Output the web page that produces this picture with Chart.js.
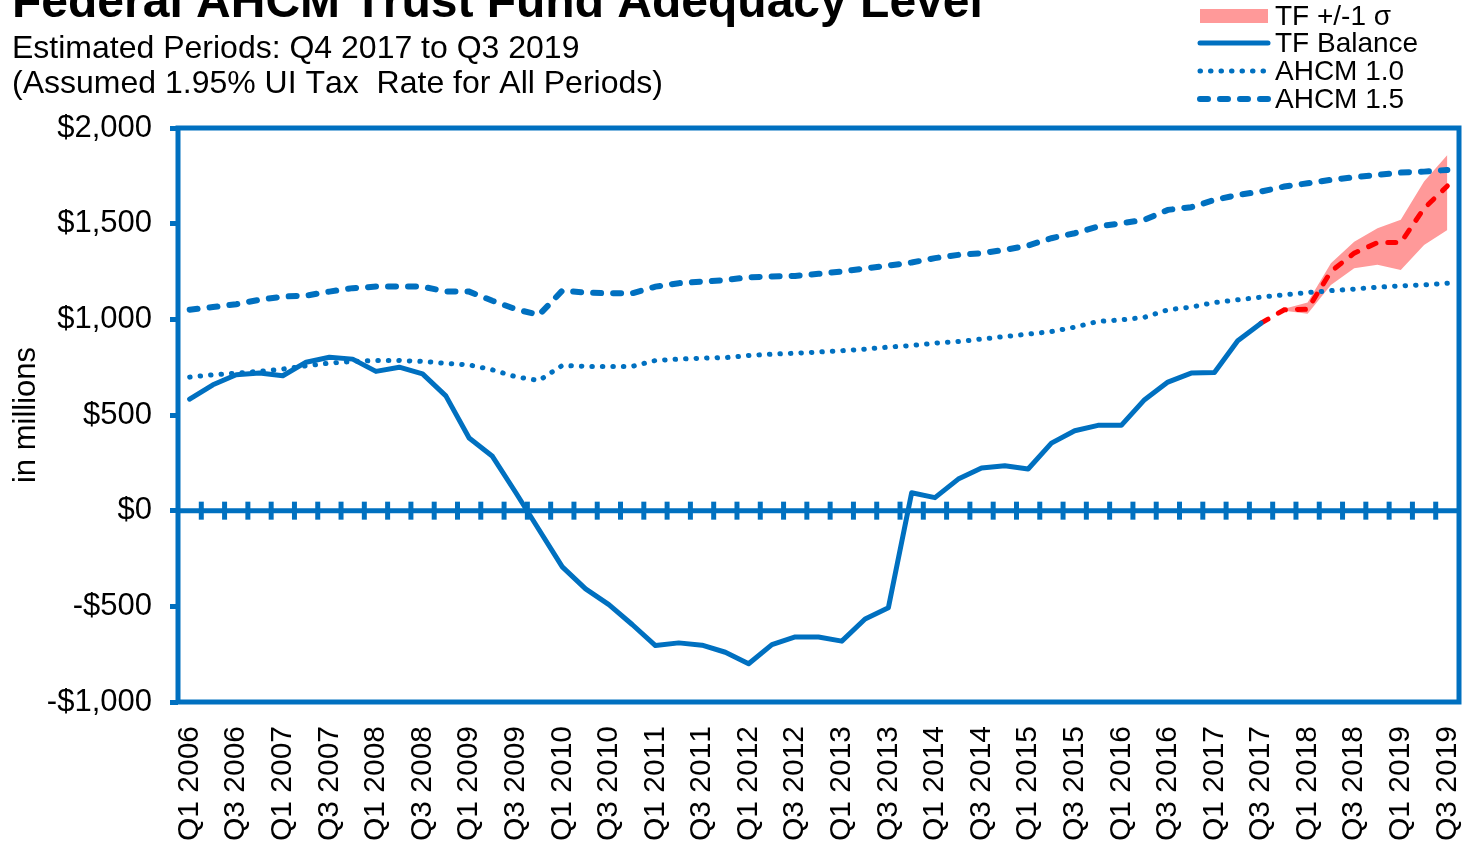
<!DOCTYPE html>
<html>
<head>
<meta charset="utf-8">
<script src="https://cdn.jsdelivr.net/npm/chart.js@4"></script>
<style>
  body { margin: 0; background: #fff; }
  canvas { display: block; }
</style>
</head>
<body>
<canvas id="chart" width="1470" height="849"></canvas>
<script>
// Quarters on the x axis (Q1 2006 .. Q3 2019)
const quarters = [
  "Q1 2006", "Q2 2006", "Q3 2006", "Q4 2006", "Q1 2007", "Q2 2007", "Q3 2007", "Q4 2007",
  "Q1 2008", "Q2 2008", "Q3 2008", "Q4 2008", "Q1 2009", "Q2 2009", "Q3 2009", "Q4 2009",
  "Q1 2010", "Q2 2010", "Q3 2010", "Q4 2010", "Q1 2011", "Q2 2011", "Q3 2011", "Q4 2011",
  "Q1 2012", "Q2 2012", "Q3 2012", "Q4 2012", "Q1 2013", "Q2 2013", "Q3 2013", "Q4 2013",
  "Q1 2014", "Q2 2014", "Q3 2014", "Q4 2014", "Q1 2015", "Q2 2015", "Q3 2015", "Q4 2015",
  "Q1 2016", "Q2 2016", "Q3 2016", "Q4 2016", "Q1 2017", "Q2 2017", "Q3 2017", "Q4 2017",
  "Q1 2018", "Q2 2018", "Q3 2018", "Q4 2018", "Q1 2019", "Q2 2019", "Q3 2019"
];

// Trust fund balance, actual (in millions)
const tfBalance = [
  583, 658, 710, 719, 705, 776, 802, 792, 728, 750,
  715, 600, 380, 284, 95, -100, -294, -409, -491, -595,
  -705, -691, -703, -740, -800, -700, -660, -660, -682, -566,
  -508, 94, 68, 165, 223, 235, 218, 353, 418, 446,
  446, 580, 672, 719, 722, 888, 980,
  null, null, null, null, null, null, null, null
];

// Trust fund balance, estimated periods (red dashed)
const tfEstimate = [
  null, null, null, null, null, null, null, null, null, null,
  null, null, null, null, null, null, null, null, null, null,
  null, null, null, null, null, null, null, null, null, null,
  null, null, null, null, null, null, null, null, null, null,
  null, null, null, null, null, null, 980,
  1050, 1053, 1250, 1346, 1401, 1401, 1580, 1697
];

// +/- 1 sigma band around the estimate
const bandUpper = [
  null, null, null, null, null, null, null, null, null, null,
  null, null, null, null, null, null, null, null, null, null,
  null, null, null, null, null, null, null, null, null, null,
  null, null, null, null, null, null, null, null, null, null,
  null, null, null, null, null, null, null,
  1055, 1088, 1293, 1406, 1476, 1520, 1720, 1859
];
const bandLower = [
  null, null, null, null, null, null, null, null, null, null,
  null, null, null, null, null, null, null, null, null, null,
  null, null, null, null, null, null, null, null, null, null,
  null, null, null, null, null, null, null, null, null, null,
  null, null, null, null, null, null, null,
  1045, 1029, 1180, 1267, 1285, 1258, 1389, 1467
];

// Adequacy levels
const ahcm10 = [
  698, 710, 719, 728, 740, 757, 771, 780, 785, 785,
  780, 770, 762, 736, 700, 680, 759, 754, 754, 754,
  785, 792, 797, 800, 811, 818, 823, 829, 836, 844,
  855, 863, 876, 884, 897, 910, 923, 936, 959, 989,
  997, 1011, 1050, 1064, 1088, 1102, 1116, 1128, 1140, 1150,
  1158, 1168, 1175, 1180, 1189
];
const ahcm15 = [
  1050, 1064, 1079, 1102, 1119, 1124, 1145, 1163, 1171, 1171,
  1171, 1145, 1145, 1097, 1053, 1023, 1150, 1140, 1136, 1136,
  1171, 1189, 1197, 1205, 1220, 1224, 1227, 1238, 1250, 1266,
  1281, 1297, 1320, 1337, 1346, 1363, 1386, 1424, 1450, 1485,
  1502, 1520, 1572, 1586, 1624, 1650, 1668, 1694, 1711, 1729,
  1743, 1755, 1767, 1772, 1781
];

const yTicks = [-1000, -500, 0, 500, 1000, 1500, 2000];

const titleText = "Federal AHCM Trust Fund Adequacy Level";
const subtitleLines = [
  "Estimated Periods: Q4 2017 to Q3 2019",
  "(Assumed 1.95% UI Tax  Rate for All Periods)"
];

const blue = "#0070C0";
const red = "#FF0000";
const pink = "#FF9999";
const fontFamily = '"Liberation Sans", Arial, sans-serif';

function money(v) {
  const s = "$" + Math.abs(v).toLocaleString("en-US");
  return v < 0 ? "-" + s : s;
}

// frame, zero line with crosses, header texts and legend
const decor = {
  id: "decor",
  beforeDraw(chart) {
    // no pair kerning, so "2011" lines up with the other labels
    chart.ctx.fontKerning = "none";
  },
  beforeDatasetsDraw(chart) {
    const { ctx, chartArea: a, scales: { x, y } } = chart;
    ctx.save();
    ctx.strokeStyle = blue;
    ctx.lineWidth = 5;
    ctx.strokeRect(a.left, a.top, a.right - a.left, a.bottom - a.top);
    const y0 = y.getPixelForValue(0);
    ctx.beginPath();
    ctx.moveTo(a.left, y0);
    ctx.lineTo(a.right, y0);
    ctx.stroke();
    ctx.lineWidth = 5;
    for (let i = 0; i < quarters.length - 1; i++) {
      const xt = (x.getPixelForValue(i) + x.getPixelForValue(i + 1)) / 2;
      ctx.beginPath();
      ctx.moveTo(xt, y0 - 9);
      ctx.lineTo(xt, y0 + 9);
      ctx.stroke();
    }
    ctx.restore();
  },
  afterDraw(chart) {
    const ctx = chart.ctx;
    ctx.save();
    ctx.fillStyle = "#000";
    ctx.textBaseline = "alphabetic";
    ctx.textAlign = "left";
    ctx.font = "bold 48px " + fontFamily;
    ctx.fillText(titleText, 12, 17);
    ctx.font = "32px " + fontFamily;
    ctx.fillText(subtitleLines[0], 12, 58);
    ctx.fillText(subtitleLines[1], 12, 93);

    // legend
    const ds = chart.data.datasets;
    const rows = [
      { d: ds.find(d => d.label === "TF +/-1 σ"), y: 16, box: true },
      { d: ds.find(d => d.label === "TF Balance"), y: 43 },
      { d: ds.find(d => d.label === "AHCM 1.0"), y: 71 },
      { d: ds.find(d => d.label === "AHCM 1.5"), y: 99 }
    ];
    rows.forEach(r => {
      if (r.box) {
        ctx.fillStyle = pink;
        ctx.fillRect(1200, r.y - 7, 68, 14);
      } else {
        ctx.beginPath();
        ctx.strokeStyle = r.d.borderColor;
        ctx.lineWidth = r.d.borderWidth;
        ctx.lineCap = r.d.borderCapStyle || "butt";
        ctx.setLineDash(r.d.borderDash || []);
        ctx.moveTo(1200, r.y);
        ctx.lineTo(1268, r.y);
        ctx.stroke();
        ctx.setLineDash([]);
      }
      ctx.fillStyle = "#000";
      ctx.font = "28px " + fontFamily;
      ctx.textBaseline = "middle";
      ctx.fillText(r.d.label, 1275, r.y + 1);
    });
    ctx.restore();
  }
};

new Chart(document.getElementById("chart"), {
  type: "line",
  data: {
    labels: quarters,
    datasets: [
      {
        label: "TF Balance",
        data: tfBalance,
        borderColor: blue,
        borderWidth: 5,
        borderCapStyle: "round",
        borderJoinStyle: "round",
        pointRadius: 0,
        fill: false
      },
      {
        label: "TF Estimate",
        data: tfEstimate,
        borderColor: red,
        borderWidth: 5,
        borderDash: [8, 12],
        borderCapStyle: "round",
        pointRadius: 0,
        fill: false
      },
      {
        label: "AHCM 1.0",
        data: ahcm10,
        borderColor: blue,
        borderWidth: 5,
        borderDash: [0.5, 10],
        borderCapStyle: "round",
        pointRadius: 0,
        fill: false
      },
      {
        label: "AHCM 1.5",
        data: ahcm15,
        borderColor: blue,
        borderWidth: 6,
        borderDash: [8, 12],
        borderCapStyle: "round",
        pointRadius: 0,
        fill: false
      },
      {
        label: "TF +/-1 σ",
        data: bandUpper,
        borderWidth: 0,
        borderColor: pink,
        backgroundColor: pink,
        pointRadius: 0,
        fill: "+1"
      },
      {
        label: "TF -1 σ",
        data: bandLower,
        borderWidth: 0,
        borderColor: pink,
        pointRadius: 0,
        fill: false
      }
    ]
  },
  options: {
    responsive: false,
    animation: false,
    layout: { padding: { top: 128, right: 11, left: 4, bottom: 0 } },
    plugins: {
      legend: { display: false },
      tooltip: { enabled: false }
    },
    scales: {
      x: {
        offset: true,
        grid: { display: false },
        border: { display: false },
        ticks: {
          autoSkip: false,
          maxRotation: 90,
          minRotation: 90,
          padding: 16,
          color: "#000",
          font: { family: fontFamily, size: 30 },
          callback: (v, i) => (i % 2 === 0 ? quarters[i] : "")
        },
        afterFit: s => {
          s.height = 147;
          s.paddingLeft = 0;
          s.paddingRight = 0;
        }
      },
      y: {
        min: yTicks[0],
        max: yTicks[yTicks.length - 1],
        afterBuildTicks: s => { s.ticks = yTicks.map(v => ({ value: v })); },
        grid: { drawOnChartArea: false, tickLength: 8, color: blue, lineWidth: 5 },
        border: { display: false },
        ticks: {
          padding: 18,
          color: "#000",
          font: { family: fontFamily, size: 31 },
          callback: v => money(v)
        },
        title: {
          display: true,
          text: "in millions",
          color: "#000",
          font: { family: fontFamily, size: 31 },
          padding: { top: 4, bottom: 4 }
        },
        afterFit: s => {
          s.width = 174;
          s.paddingTop = 0;
          s.paddingBottom = 0;
        }
      }
    }
  },
  plugins: [decor]
});
</script>
</body>
</html>
